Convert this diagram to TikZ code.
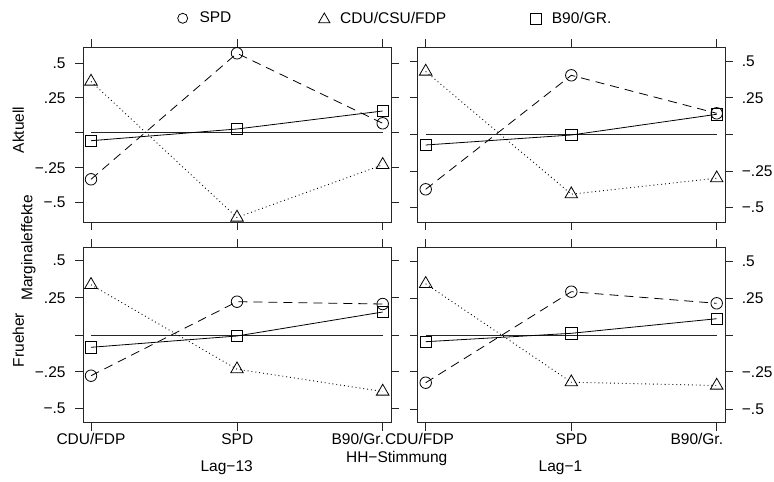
\documentclass[tikz,border=0pt]{standalone}
\usepackage{fontspec}
\setmainfont{Liberation Sans}
\usetikzlibrary{shapes.geometric}
\begin{document}
\begin{tikzpicture}[x=1pt,y=-1pt,
  lbl/.style={font=\fontsize{15.5}{18}\selectfont, inner sep=0pt},
  frame/.style={line width=0.9pt, draw=black!85},
  tickline/.style={line width=0.8pt, draw=black!85},
  zeroline/.style={line width=0.8pt, draw=black!85},
  circmark/.style={circle, draw, line width=0.8pt, minimum size=11.5pt, inner sep=0pt},
  trimark/.style={regular polygon, regular polygon sides=3, draw, line width=0.8pt, minimum size=14.5pt, inner sep=0pt},
  sqmark/.style={rectangle, draw, line width=0.8pt, minimum size=11.5pt, inner sep=0pt},
  spdline/.style={line width=0.8pt, dash pattern=on 9pt off 6pt},
  cduline/.style={line width=0.9pt, dash pattern=on 0.9pt off 3pt},
  grline/.style={line width=0.8pt},
]
\useasboundingbox (0,0) rectangle (774,482);

% ---------- legend ----------
\node[circmark, minimum size=10pt] (legc) at (182.7,18.3) {};
\node[lbl, anchor=west] (legct) at (199.3,17.6) {SPD};
\node[trimark, minimum size=13pt] (legt) at (324.3,19.5) {};
\node[lbl, anchor=west] (legtt) at (340,17.6) {CDU/CSU/FDP};
\node[sqmark, minimum size=11pt] (legs) at (535.8,18.8) {};
\node[lbl, anchor=west] (legst) at (551.7,17.6) {B90/GR.};

% ---------- axis titles ----------
\node[lbl, rotate=90] (tAkt) at (18.3,130) {Aktuell};
\node[lbl, rotate=90] (tMarg) at (28.3,248) {Marginaleffekte};
\node[lbl, rotate=90] (tFru) at (18.3,340) {Frueher};

% ---------- frames ----------
\draw[frame] (83,47) rectangle (391,222);
\draw[frame] (417.5,47) rectangle (725,222);
\draw[frame] (83,247) rectangle (391,422.7);
\draw[frame] (417.5,247) rectangle (725,422.7);

% ---------- x ticks ----------
\foreach \x in {91,237,382.7}{
  \draw[tickline] (\x,47) -- (\x,39);
  \draw[tickline] (\x,222) -- (\x,230);
  \draw[tickline] (\x,247) -- (\x,239);
  \draw[tickline] (\x,422.7) -- (\x,430.7);
}
\foreach \x in {425.7,571.3,716.7}{
  \draw[tickline] (\x,47) -- (\x,39);
  \draw[tickline] (\x,222) -- (\x,230);
  \draw[tickline] (\x,247) -- (\x,239);
  \draw[tickline] (\x,422.7) -- (\x,430.7);
}

% ---------- y ticks and labels ----------
% top-left
\foreach \y/\t in {63.3/.5, 97.7/.25, 132.7/, 167.7/−.25, 202.3/−.5}{
  \draw[tickline] (83,\y) -- (75,\y);
  \draw[tickline] (391,\y) -- (399,\y);
  \node[lbl, anchor=east] at (65.7,\y) {\t};
}
% bottom-left
\foreach \y/\t in {260.7/.5, 297.7/.25, 335/, 371.7/−.25, 408.7/−.5}{
  \draw[tickline] (83,\y) -- (75,\y);
  \draw[tickline] (391,\y) -- (399,\y);
  \node[lbl, anchor=east] at (65.7,\y) {\t};
}
% top-right
\foreach \y/\t in {61/.5, 97.7/.25, 134.3/, 171/−.25, 207.7/−.5}{
  \draw[tickline] (417.5,\y) -- (409.5,\y);
  \draw[tickline] (725,\y) -- (733,\y);
  \node[lbl, anchor=west] at (741.7,\y) {\t};
}
% bottom-right
\foreach \y/\t in {261.7/.5, 298.3/.25, 335/, 371.7/−.25, 409/−.5}{
  \draw[tickline] (417.5,\y) -- (409.5,\y);
  \draw[tickline] (725,\y) -- (733,\y);
  \node[lbl, anchor=west] at (741.7,\y) {\t};
}

% ---------- zero lines ----------
\draw[zeroline] (91,132.7) -- (382.7,132.7);
\draw[zeroline] (425.7,134.3) -- (716.7,134.3);
\draw[zeroline] (91,335) -- (382.7,335);
\draw[zeroline] (425.7,335) -- (716.7,335);

% ---------- data ----------
% top-left
\coordinate (tlc1) at (91,179.3);  \coordinate (tlc2) at (237,53.3);  \coordinate (tlc3) at (382.7,123.3);
\coordinate (tlt1) at (91,81.5);   \coordinate (tlt2) at (237,217.5); \coordinate (tlt3) at (382.7,164.8);
\coordinate (tls1) at (91,140.7);  \coordinate (tls2) at (237,129);   \coordinate (tls3) at (382.7,111);
% top-right
\coordinate (trc1) at (425.7,189.3); \coordinate (trc2) at (571.3,75.3);  \coordinate (trc3) at (716.7,113.3);
\coordinate (trt1) at (425.7,71.5);  \coordinate (trt2) at (571.3,194.2); \coordinate (trt3) at (716.7,178.2);
\coordinate (trs1) at (425.7,145);   \coordinate (trs2) at (571.3,135);   \coordinate (trs3) at (716.7,114.3);
% bottom-left
\coordinate (blc1) at (91,375.7);  \coordinate (blc2) at (237,301.7); \coordinate (blc3) at (382.7,304);
\coordinate (blt1) at (91,284.8);  \coordinate (blt2) at (237,369.2); \coordinate (blt3) at (382.7,391.5);
\coordinate (bls1) at (91,347.3);  \coordinate (bls2) at (237,336);   \coordinate (bls3) at (382.7,312);
% bottom-right
\coordinate (brc1) at (425.7,382.7); \coordinate (brc2) at (571.3,291.7); \coordinate (brc3) at (716.7,303.3);
\coordinate (brt1) at (425.7,283.8); \coordinate (brt2) at (571.3,382.2); \coordinate (brt3) at (716.7,385.5);
\coordinate (brs1) at (425.7,341.7); \coordinate (brs2) at (571.3,333.3); \coordinate (brs3) at (716.7,318.7);

\foreach \p in {tl,tr,bl,br}{
  \draw[spdline] (\p c1) -- (\p c2) -- (\p c3);
  \draw[cduline] (\p t1) -- (\p t2) -- (\p t3);
  \draw[grline]  (\p s1) -- (\p s2) -- (\p s3);
  \foreach \i in {1,2,3}{
    \node[circmark] (m\p c\i) at (\p c\i) {};
    \node[trimark]  (m\p t\i) at (\p t\i) {};
    \node[sqmark]   (m\p s\i) at (\p s\i) {};
  }
}

% ---------- x category labels ----------
\node[lbl, anchor=base] (xl1) at (91,444.3) {CDU/FDP};
\node[lbl, anchor=base] (xl2) at (237.3,444.3) {SPD};
\node[lbl, anchor=base east] (xl3) at (384.3,444.3) {B90/Gr.};
\node[lbl, anchor=base west] (xr1) at (384.8,444.3) {CDU/FDP};
\node[lbl, anchor=base] (xr2) at (571.5,444.3) {SPD};
\node[lbl, anchor=base east] (xr3) at (723.3,444.3) {B90/Gr.};

\node[lbl, anchor=base] (xtitle) at (396.7,462.3) {HH−Stimmung};
\node[lbl, anchor=base] (lag13) at (226.7,471.7) {Lag−13};
\node[lbl, anchor=base] (lag1) at (560.5,471.7) {Lag−1};
\end{tikzpicture}
\end{document}
